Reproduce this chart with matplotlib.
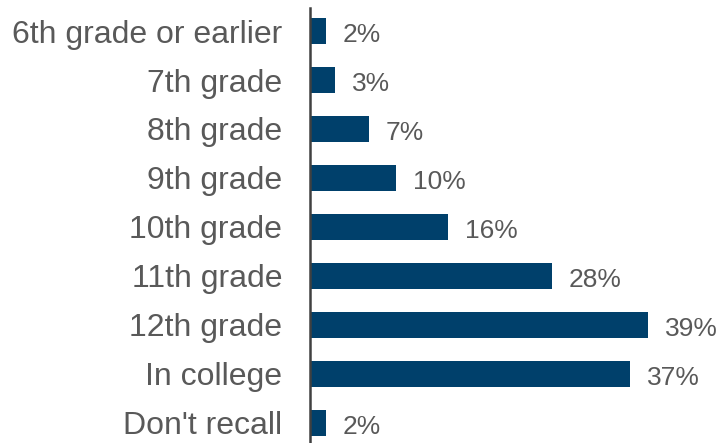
import matplotlib
matplotlib.use("Agg")
import matplotlib.pyplot as plt

categories = ["6th grade or earlier", "7th grade", "8th grade", "9th grade",
              "10th grade", "11th grade", "12th grade", "In college", "Don't recall"]
values = [2, 3, 7, 10, 16, 28, 39, 37, 2]
# the bars in the source are drawn a bit off their rounded labels
bar_lengths = [1.85, 2.9, 6.8, 9.9, 15.9, 27.9, 39.0, 36.9, 1.85]

plt.rcParams['font.family'] = ['Liberation Sans', 'DejaVu Sans']
grey = "#595959"

fig = plt.figure(figsize=(7.21, 4.43), dpi=100)
ax = fig.add_axes([310 / 721, 0, 411 / 721, 435 / 443])

ypos = list(range(len(categories)))
ax.barh(ypos, bar_lengths, height=0.53, color="#00406B")
for y, v, b in zip(ypos, values, bar_lengths):
    ax.annotate(f"{v}%", (b, y), xytext=(12, -3), textcoords="offset points",
                ha="left", va="center", fontsize=19, color=grey)

ax.set_xlim(0, 47.4)
ax.set_ylim(8.41, -0.47)
ax.set_yticks(ypos)
ax.set_yticklabels(categories, fontsize=23, color=grey)
ax.tick_params(axis="y", length=0, pad=20)
ax.set_xticks([])
for s in ["top", "right", "bottom"]:
    ax.spines[s].set_visible(False)
ax.spines["left"].set_color("#404040")
ax.spines["left"].set_linewidth(1.8)

fig.savefig("out.png", dpi=100)
